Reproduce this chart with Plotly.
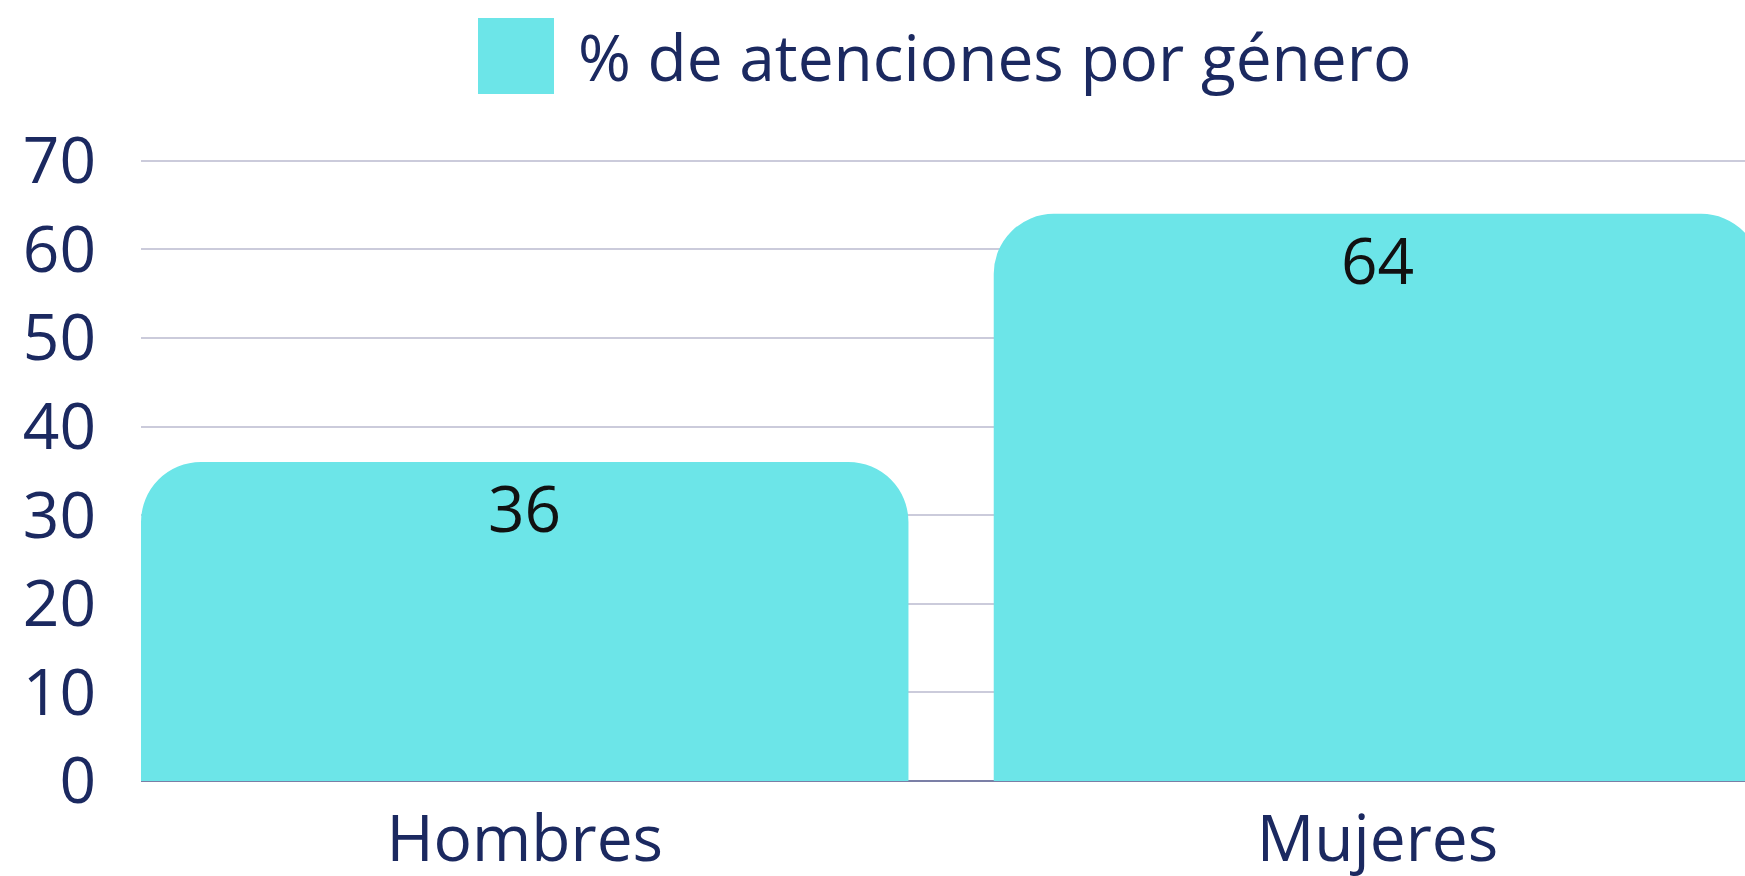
import plotly.graph_objects as go

categories = ["Hombres", "Mujeres"]
values = [36, 64]
series_name = "% de atenciones por género"
y_ticks = [0, 10, 20, 30, 40, 50, 60, 70]

W, H = 1745, 876
ML, MR, MT, MB = 141, 0, 158, 95
plot_w = W - ML - MR
plot_h = H - MT - MB

def px_x(p):
    return (p - ML) / plot_w

def px_y(p):
    return (H - MB - p) / plot_h

NAVY = "#1b2960"
BAR = "#6ce5e8"
FONT = "Open Sans"

fig = go.Figure()
fig.add_trace(go.Bar(
    x=categories, y=values, name=series_name,
    marker=dict(color=BAR, line=dict(width=0), cornerradius=60),
    showlegend=False, hoverinfo="x+y",
))

annotations = [dict(x=c, y=v, xref="x", yref="y", text=str(v), showarrow=False,
                    xanchor="center", yanchor="top", yshift=0,
                    font=dict(family=FONT, size=64, color="#111111"))
               for c, v in zip(categories, values)]
annotations.append(dict(xref="paper", yref="paper", x=px_x(576), y=px_y(56),
                        xanchor="left", yanchor="middle", showarrow=False,
                        text=series_name,
                        font=dict(family=FONT, size=64, color=NAVY)))

fig.update_layout(
    width=W, height=H,
    margin=dict(l=ML, r=MR, t=MT, b=MB, pad=0),
    paper_bgcolor="white", plot_bgcolor="white",
    bargap=0.1,
    font=dict(family=FONT, color=NAVY),
    xaxis=dict(range=[-0.45, 1.431], showgrid=False, showline=False,
               tickfont=dict(size=64, color=NAVY), ticks="",
               ticklabelstandoff=15, fixedrange=True, automargin=False),
    yaxis=dict(range=[0, 70.3], tickvals=y_ticks, showgrid=True,
               gridcolor="#cbcbdb", gridwidth=1.5,
               zeroline=True, zerolinecolor="#7b7fa6", zerolinewidth=2,
               tickfont=dict(size=64, color=NAVY), ticks="",
               ticklabelstandoff=44, showline=False, automargin=False),
    shapes=[dict(type="rect", xref="paper", yref="paper",
                 x0=px_x(478), x1=px_x(554), y0=px_y(94), y1=px_y(18),
                 fillcolor=BAR, line=dict(width=0), layer="above")],
    annotations=annotations,
)

fig.write_html("out.html",
               config={"displayModeBar": False},
               post_script="document.body.style.margin='0';document.body.style.overflow='hidden';")
